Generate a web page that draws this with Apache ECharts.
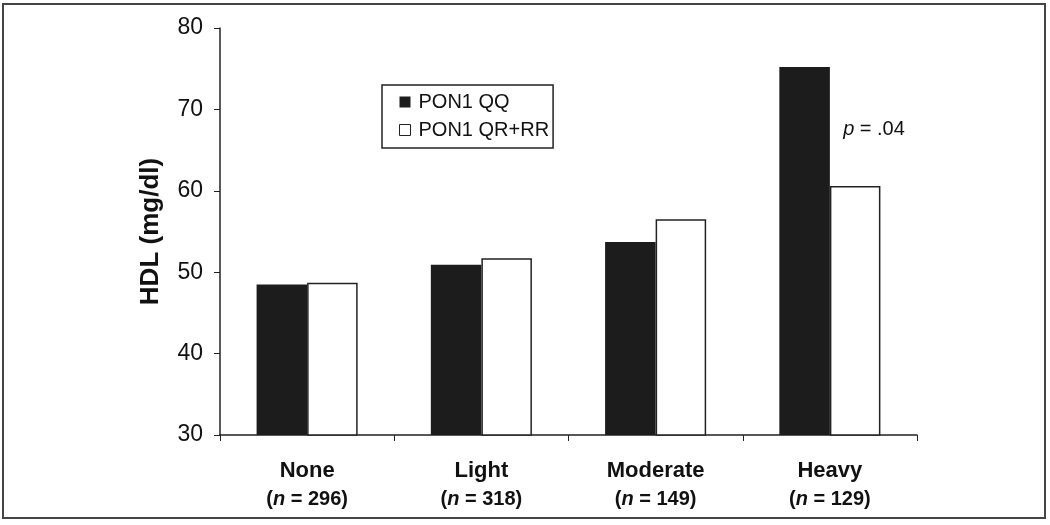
<!DOCTYPE html>
<html><head><meta charset="utf-8">
<script src="https://cdn.jsdelivr.net/npm/echarts@6/dist/echarts.min.js"></script>
<style>html,body{margin:0;padding:0;background:#fff}#c{width:1050px;height:525px}</style>
</head><body><div id="c"></div>
<script>
var categories = ['None', 'Light', 'Moderate', 'Heavy'];
var sampleSizes = ['296', '318', '149', '129'];
var seriesNames = ['PON1 QQ', 'PON1 QR+RR'];
var qqValues = [48.5, 50.9, 53.7, 75.2];
var qrValues = [48.7, 51.7, 56.5, 60.6];
var yTicks = [30, 40, 50, 60, 70, 80];
var pText = '.04';

var font = '"Liberation Sans", Arial, sans-serif';
var chart = echarts.init(document.getElementById('c'));
chart.setOption({
  animation: false,
  backgroundColor: '#fff',
  textStyle: {fontFamily: font},
  graphic: [{
    type: 'rect', shape: {x: 3, y: 4, width: 1042, height: 514},
    style: {fill: 'none', stroke: '#444', lineWidth: 2}, silent: true
  }],
  grid: {left: 220, right: 133, top: 28, bottom: 90},
  legend: {
    orient: 'vertical', left: 382, top: 85,
    padding: [7, 4, 8, 17],
    itemGap: 8,
    borderColor: '#222', borderWidth: 1.5,
    itemWidth: 11, itemHeight: 11, icon: 'rect',
    textStyle: {fontSize: 20, color: '#111', fontFamily: font, padding: [0, 0, 0, 3]},
    data: [
      {name: seriesNames[0], itemStyle: {color: '#1c1c1c', borderWidth: 0}},
      {name: seriesNames[1], itemStyle: {color: '#fff', borderColor: '#222', borderWidth: 1}}
    ]
  },
  xAxis: {
    type: 'category', data: categories,
    axisLine: {lineStyle: {color: '#222', width: 1.5}},
    axisTick: {show: true, inside: false, length: 6, lineStyle: {color: '#222'}},
    axisLabel: {
      margin: 22, interval: 0,
      formatter: function (v, i) {
        return '{b|' + v + '}\n{p|(}{i|n}{p| = ' + sampleSizes[i] + ')}';
      },
      rich: {
        b: {fontSize: 22, fontWeight: 'bold', color: '#111', fontFamily: font, lineHeight: 28},
        p: {fontSize: 20, fontWeight: 'bold', color: '#111', fontFamily: font, lineHeight: 28},
        i: {fontSize: 20, fontWeight: 'bold', fontStyle: 'italic', color: '#111', fontFamily: font, lineHeight: 28}
      }
    }
  },
  yAxis: {
    type: 'value', min: 30, max: 80, interval: 10,
    name: 'HDL (mg/dl)', nameLocation: 'middle', nameGap: 56,
    nameTextStyle: {fontSize: 26, fontWeight: 'bold', color: '#111', fontFamily: font},
    axisLine: {show: true, lineStyle: {color: '#222', width: 1.5}},
    axisTick: {show: true, inside: false, length: 6, lineStyle: {color: '#222'}},
    splitLine: {show: false},
    axisLabel: {
      fontSize: 23, color: '#111', margin: 17, fontFamily: font,
      formatter: function (v) { return yTicks.indexOf(v) >= 0 ? String(v) : ''; }
    }
  },
  series: [{
    name: seriesNames[0], type: 'bar', data: qqValues,
    barGap: '0%', barCategoryGap: '42%',
    itemStyle: {color: '#1c1c1c', borderColor: '#1c1c1c', borderWidth: 0}
  }, {
    name: seriesNames[1], type: 'bar', data: qrValues,
    barGap: '0%', barCategoryGap: '42%',
    itemStyle: {color: '#fff', borderColor: '#222', borderWidth: 1.5},
    markPoint: {
      symbol: 'circle', symbolSize: 0,
      data: [{coord: [categories[3], 67.5]}],
      label: {
        show: true, position: 'right', distance: 0, offset: [-12, 0],
        formatter: '{i|p}{t| = ' + pText + '}',
        rich: {
          i: {fontSize: 20, fontStyle: 'italic', color: '#111', fontFamily: font},
          t: {fontSize: 20, color: '#111', fontFamily: font}
        }
      }
    }
  }]
});
</script></body></html>
